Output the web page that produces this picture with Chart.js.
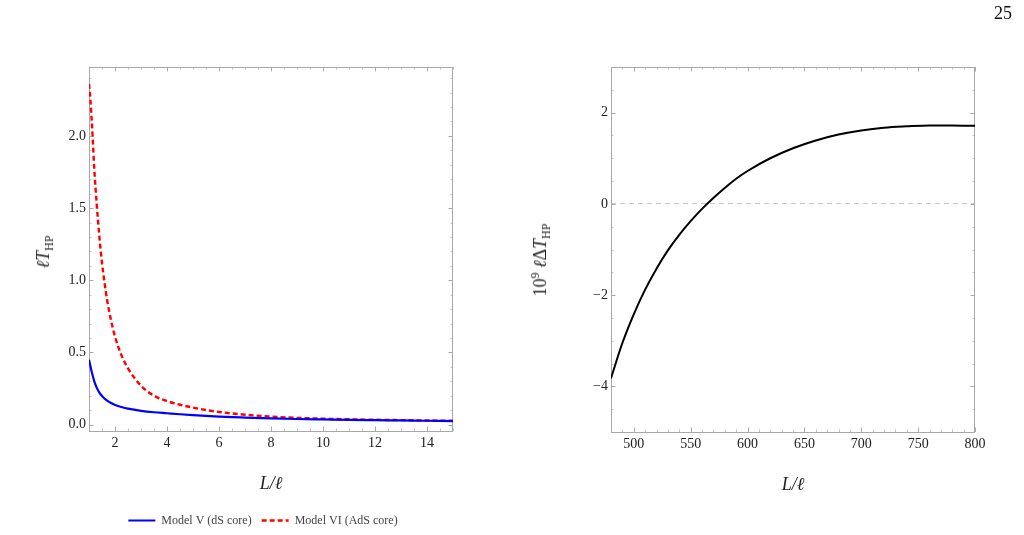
<!DOCTYPE html>
<html>
<head>
<meta charset="utf-8">
<script src="https://cdn.jsdelivr.net/npm/chart.js@4.4.1/dist/chart.umd.min.js"></script>
<style>
body { margin:0; background:#fff; width:1024px; height:535px; overflow:hidden; position:relative; font-family:'Liberation Serif', serif; }
canvas { position:absolute; top:0; }
#left { left:0; }
#right { left:512px; }
.ytitle { position:absolute; transform:translate(-50%,-50%) rotate(-90deg); white-space:nowrap; font-size:18px; color:#222; }
.ytitle sub { font-size:12px; vertical-align:-4px; }
.ytitle sup { font-size:12px; vertical-align:7px; }
#page { position:absolute; left:994px; top:3px; font-size:18px; color:#111; }
</style>
</head>
<body>
<canvas id="left" width="512" height="540"></canvas>
<canvas id="right" width="512" height="540"></canvas>
<div class="ytitle" style="left:45px; top:252px"><i>ℓT</i><sub>HP</sub></div>
<div class="ytitle" style="left:541px; top:260px">10<sup>9</sup> <i>ℓ</i>Δ<i>T</i><sub>HP</sub></div>
<div id="page">25</div>
<script>
// left panel: temperature vs L/l for the two models
var xLeft   = [1, 1.05, 1.1, 1.15, 1.2, 1.3, 1.4, 1.5, 1.6, 1.7, 1.85, 2, 2.25, 2.5, 3, 3.5, 4, 4.5, 5, 6, 7, 8, 9, 10, 11, 12, 13, 14, 15];
var modelV  = [0.45, 0.41, 0.37, 0.335, 0.302, 0.255, 0.222, 0.198, 0.18, 0.166, 0.15, 0.136, 0.122, 0.111, 0.096, 0.086, 0.079, 0.072, 0.066, 0.056, 0.049, 0.043, 0.039, 0.036, 0.033, 0.031, 0.029, 0.027, 0.025];
var modelVI = [2.36, 2.26, 2.12, 1.96, 1.78, 1.52, 1.30, 1.12, 0.98, 0.86, 0.72, 0.61, 0.48, 0.39, 0.27, 0.20, 0.163, 0.138, 0.118, 0.088, 0.069, 0.056, 0.047, 0.041, 0.037, 0.034, 0.031, 0.029, 0.027];
var labelsLeft = ['Model V (dS core)', 'Model VI (AdS core)'];
var xTicksLeft = [2, 4, 6, 8, 10, 12, 14];
var yTicksLeft = [0, 0.5, 1, 1.5, 2];
var yTickTextLeft = ['0.0', '0.5', '1.0', '1.5', '2.0'];

// right panel: 10^9 l dT vs L/l
var xRight = [480, 490, 500, 510, 520, 530, 540, 550, 560, 570, 580, 590, 600, 620, 640, 660, 680, 700, 720, 740, 760, 780, 800];
var dT     = [-3.82, -3.05, -2.42, -1.88, -1.42, -1.02, -0.68, -0.38, -0.11, 0.13, 0.35, 0.55, 0.72, 1.0, 1.22, 1.39, 1.52, 1.61, 1.67, 1.70, 1.72, 1.72, 1.71];
var xTicksRight = [500, 550, 600, 650, 700, 750, 800];
var yTicksRight = [-4, -2, 0, 2];
var yTickTextRight = ['\u22124', '\u22122', '0', '2'];

Chart.defaults.font.family = "'Liberation Serif', serif";
Chart.defaults.color = '#222';

function pts(xs, ys) {
    return xs.map(function (x, i) { return {x: x, y: ys[i]}; });
}

// frame with inward ticks on all four sides, Mathematica style
var frameTicks = {
    id: 'frameTicks',
    beforeDatasetsDraw: function (chart, args, opts) {
        var ctx = chart.ctx, a = chart.chartArea, x = chart.scales.x, y = chart.scales.y;
        function minors(scale, step) {
            var out = [];
            for (var v = Math.ceil(scale.min / step - 1e-9) * step; v <= scale.max + 1e-9; v += step) out.push(v);
            return out;
        }
        function xmarks(vals, len) {
            vals.forEach(function (v) {
                var px = Math.round(x.getPixelForValue(v)) + 0.5;
                ctx.moveTo(px, a.bottom); ctx.lineTo(px, a.bottom - len);
                ctx.moveTo(px, a.top); ctx.lineTo(px, a.top + len);
            });
        }
        function ymarks(vals, len) {
            vals.forEach(function (v) {
                var py = Math.round(y.getPixelForValue(v)) + 0.5;
                ctx.moveTo(a.left, py); ctx.lineTo(a.left + len, py);
                ctx.moveTo(a.right, py); ctx.lineTo(a.right - len, py);
            });
        }
        ctx.save();
        ctx.lineWidth = 1;
        ctx.strokeStyle = '#c4c4c4';
        ctx.beginPath();
        xmarks(minors(x, opts.minorX), 2.5);
        ymarks(minors(y, opts.minorY), 2.5);
        ctx.stroke();
        ctx.strokeStyle = '#aaaaaa';
        ctx.beginPath();
        xmarks(x.ticks.map(function (t) { return t.value; }), 4.5);
        ymarks(y.ticks.map(function (t) { return t.value; }), 4.5);
        ctx.stroke();
        ctx.strokeStyle = '#a8a8a8';
        ctx.strokeRect(a.left + 0.5, a.top + 0.5, a.right - a.left - 1, a.bottom - a.top);
        ctx.restore();
    }
};

function fixTicks(values) {
    return function (scale) {
        scale.ticks = values.map(function (v) { return {value: v}; });
    };
}

var xTitle = {
    display: true,
    text: 'L/\u2113',
    font: {size: 18, style: 'italic'},
    color: '#222',
    padding: {top: 0, bottom: 9}
};

// legend lines keep the dataset dash
function lineLabels(chart) {
    var items = Chart.defaults.plugins.legend.labels.generateLabels(chart);
    items.forEach(function (it, i) {
        var ds = chart.data.datasets[i];
        it.lineDash = ds.borderDash || [];
        it.lineWidth = ds.borderWidth;
        it.strokeStyle = ds.borderColor;
        it.pointStyle = 'line';
    });
    return items;
}

new Chart(document.getElementById('left'), {
    type: 'line',
    data: {
        datasets: [
            {
                label: labelsLeft[0],
                data: pts(xLeft, modelV),
                borderColor: '#0000ff',
                backgroundColor: '#0000ff',
                borderWidth: 2.2,
                pointRadius: 0,
                cubicInterpolationMode: 'monotone'
            },
            {
                label: labelsLeft[1],
                data: pts(xLeft, modelVI),
                borderColor: '#ff0000',
                backgroundColor: '#ff0000',
                borderWidth: 2.4,
                borderDash: [5, 3],
                pointRadius: 0,
                cubicInterpolationMode: 'monotone'
            }
        ]
    },
    options: {
        responsive: false,
        animation: false,
        layout: { padding: { left: 40, right: 26, top: 67, bottom: 3.5 } },
        scales: {
            x: {
                type: 'linear', min: 1, max: 15,
                afterBuildTicks: fixTicks(xTicksLeft),
                afterFit: function (s) { s.height = 73.5; },
                grid: { display: false, drawTicks: false },
                border: { display: false },
                ticks: { font: {size: 14}, padding: 4, maxRotation: 0 },
                title: xTitle
            },
            y: {
                min: -0.044, max: 2.477,
                afterBuildTicks: fixTicks(yTicksLeft),
                afterFit: function (s) { s.width = 49; },
                grid: { display: false, drawTicks: false },
                border: { display: false },
                ticks: {
                    font: {size: 14}, padding: 3,
                    callback: function (v) { return yTickTextLeft[yTicksLeft.indexOf(v)]; }
                }
            },
            // empty right box so the legend row sits where the reference has it
            y2: {
                position: 'right',
                afterFit: function (s) { s.width = 33; },
                grid: { display: false, drawTicks: false },
                border: { display: false },
                ticks: { display: false }
            }
        },
        plugins: {
            legend: {
                position: 'bottom',
                labels: {
                    usePointStyle: true,
                    pointStyleWidth: 27,
                    padding: 10,
                    color: '#444',
                    font: {size: 12},
                    generateLabels: lineLabels
                }
            },
            tooltip: { enabled: false },
            frameTicks: { minorX: 0.5, minorY: 0.1 }
        }
    },
    plugins: [frameTicks]
});

new Chart(document.getElementById('right'), {
    type: 'line',
    data: {
        datasets: [
            {
                label: 'dT',
                data: pts(xRight, dT),
                borderColor: '#000000',
                borderWidth: 2,
                pointRadius: 0,
                cubicInterpolationMode: 'monotone'
            }
        ]
    },
    options: {
        responsive: false,
        animation: false,
        layout: { padding: { left: 50, right: 49, top: 67, bottom: 34.5 } },
        scales: {
            x: {
                type: 'linear', min: 480, max: 800,
                afterBuildTicks: fixTicks(xTicksRight),
                afterFit: function (s) { s.height = 73.5; },
                grid: { display: false, drawTicks: false },
                border: { display: false },
                ticks: { font: {size: 14}, padding: 4, maxRotation: 0 },
                title: xTitle
            },
            y: {
                min: -5, max: 3,
                afterBuildTicks: fixTicks(yTicksRight),
                afterFit: function (s) { s.width = 49; },
                grid: {
                    drawTicks: false,
                    lineWidth: 1,
                    color: function (c) { return c.tick && c.tick.value === 0 ? '#c8c8c8' : 'rgba(0,0,0,0)'; }
                },
                border: { display: false, dash: [5, 4] },
                ticks: {
                    font: {size: 14}, padding: 3,
                    callback: function (v) { return yTickTextRight[yTicksRight.indexOf(v)]; }
                }
            }
        },
        plugins: {
            legend: { display: false },
            tooltip: { enabled: false },
            frameTicks: { minorX: 10, minorY: 0.5 }
        }
    },
    plugins: [frameTicks]
});
</script>
</body>
</html>
